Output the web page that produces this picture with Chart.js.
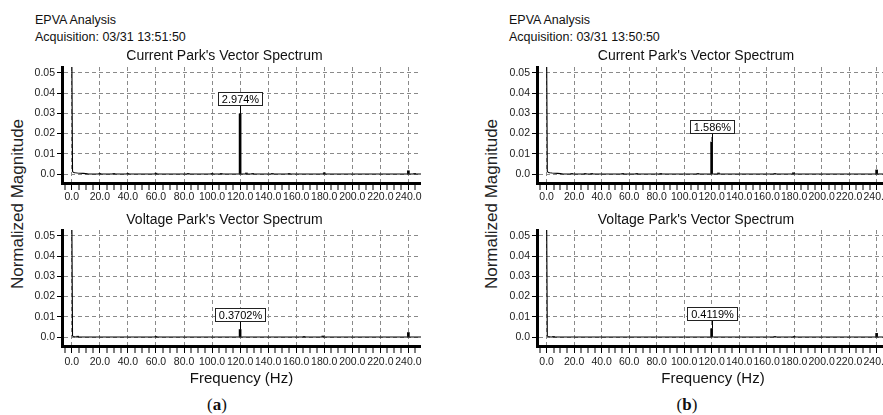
<!DOCTYPE html>
<html><head><meta charset="utf-8">
<script src="https://cdn.jsdelivr.net/npm/chart.js@4.4.1/dist/chart.umd.min.js"></script>
<style>
html,body{margin:0;padding:0;background:#fff;}
body{width:883px;height:415px;position:relative;overflow:hidden;font-family:'Liberation Sans',Arial,sans-serif;color:#111;}
.hdr{position:absolute;font-size:12.5px;line-height:15px;white-space:nowrap;}
.cv{position:absolute;}
.ytitle{position:absolute;font-size:17px;line-height:20px;white-space:nowrap;transform:translate(-50%,-50%) rotate(-90deg);color:#222;}
.cap{position:absolute;font-family:'Liberation Serif','Times New Roman',serif;font-size:17px;transform:translate(-50%,-50%);white-space:nowrap;}
.cap b{font-weight:bold;}
</style></head><body>
<div class="hdr" style="left:35px;top:13px">EPVA Analysis</div>
<div class="hdr" style="left:35px;top:30px">Acquisition: 03/31 13:51:50</div>
<div class="hdr" style="left:509px;top:13px">EPVA Analysis</div>
<div class="hdr" style="left:509px;top:30px">Acquisition: 03/31 13:50:50</div>
<div class="ytitle" style="left:18px;top:204px">Normalized Magnitude</div>
<div class="ytitle" style="left:492px;top:204px">Normalized Magnitude</div>
<canvas id="curA" class="cv" style="left:28px;top:40px" width="408" height="163"></canvas>
<canvas id="volA" class="cv" style="left:28px;top:203px" width="408" height="185"></canvas>
<canvas id="curB" class="cv" style="left:503px;top:40px" width="401" height="163"></canvas>
<canvas id="volB" class="cv" style="left:503px;top:203px" width="401" height="185"></canvas>
<div class="cap" style="left:217px;top:405px">(<b>a</b>)</div>
<div class="cap" style="left:687px;top:405px">(<b>b</b>)</div>
<script>
// ---------- axis ticks ----------
const xTickValues = [0, 20, 40, 60, 80, 100, 120, 140, 160, 180, 200, 220, 240];
const xTickLabels = ['0.0','20.0','40.0','60.0','80.0','100.0','120.0','140.0','160.0','180.0','200.0','220.0','240.0'];
const yTickValues = [0, 0.01, 0.02, 0.03, 0.04, 0.05];
const yTickLabels = ['0.0','0.01','0.02','0.03','0.04','0.05'];
const panelTitles = ["Current Park's Vector Spectrum", "Voltage Park's Vector Spectrum"];
const xAxisTitle = 'Frequency (Hz)';

// ---------- panel (a) current ----------
const curA_lowFreq = [0, 0.5, 1.0, 1.5, 2.5, 4, 6, 8, 10, 12, 249];
const curA_lowMag  = [0.06, 0.0013, 0.0009, 0.0007, 0.0006, 0.0005, 0.0004, 0.0003, 0.0002, 0.0, 0.0];
const curA_peakFreq = [20, 30, 40, 60, 83, 100, 106.5, 120, 124.5, 129, 143, 155, 180, 240, 244.5];
const curA_peakMag  = [0.0003, 0.0002, 0.0003, 0.0004, 0.0002, 0.0003, 0.0002, 0.02974, 0.0005, 0.0003, 0.0002, 0.0002, 0.0006, 0.0016, 0.0003];
// ---------- panel (a) voltage ----------
const volA_lowFreq = [0, 0.5, 1.0, 2, 3, 249];
const volA_lowMag  = [0.06, 0.0006, 0.0002, 0.0001, 0.0, 0.0];
const volA_peakFreq = [4.2, 60, 120, 165.6, 179, 240];
const volA_peakMag  = [0.0004, 0.0002, 0.003702, 0.0003, 0.0005, 0.0022];
// ---------- panel (b) current ----------
const curB_lowFreq = [0, 0.5, 1.0, 1.5, 2.5, 4, 6, 8, 10, 12, 249];
const curB_lowMag  = [0.06, 0.0013, 0.0009, 0.0007, 0.0006, 0.0005, 0.0004, 0.0003, 0.0002, 0.0, 0.0];
const curB_peakFreq = [18.3, 28, 32.8, 55.4, 65.6, 83, 110, 120, 125, 166, 179.5, 240];
const curB_peakMag  = [0.0003, 0.0002, 0.0002, 0.0002, 0.0002, 0.0002, 0.0002, 0.01586, 0.0005, 0.0003, 0.0006, 0.0020];
// ---------- panel (b) voltage ----------
const volB_lowFreq = [0, 0.5, 1.0, 2, 3, 249];
const volB_lowMag  = [0.06, 0.0006, 0.0002, 0.0001, 0.0, 0.0];
const volB_peakFreq = [5, 120, 166, 180, 240];
const volB_peakMag  = [0.0003, 0.004119, 0.0003, 0.0003, 0.0018];
// ---------- peak annotations ----------
const peakLabelFreq = 120;
const peakLabels = ['2.974%', '0.3702%', '1.586%', '0.4119%'];
const peakValues = [0.02974, 0.003702, 0.01586, 0.004119];

const FONT = "'Liberation Sans', Arial, sans-serif";
Chart.defaults.font.family = FONT;
Chart.defaults.color = '#1a1a1a';
const GRID = '#8a8a8a';

const peakLabelPlugin = {
  id: 'peakLabel',
  afterDatasetsDraw(chart, args, opts) {
    const {ctx} = chart;
    const xs = chart.scales.x, ys = chart.scales.y;
    const px = Math.round(xs.getPixelForValue(opts.freq)) + 0.5;
    const py = ys.getPixelForValue(opts.value);
    ctx.save();
    ctx.font = '11px ' + FONT;
    const tw = ctx.measureText(opts.text).width;
    const bw = Math.round(tw + 8), bh = 14;
    const bBottom = Math.round(py - 8);
    const bx = Math.round(px - bw / 2);
    ctx.strokeStyle = '#000';
    ctx.lineWidth = 1;
    ctx.beginPath(); ctx.moveTo(px, bBottom); ctx.lineTo(px, py); ctx.stroke();
    ctx.fillStyle = '#fff';
    ctx.fillRect(bx, bBottom - bh, bw, bh);
    ctx.strokeStyle = '#222';
    ctx.strokeRect(bx + 0.5, bBottom - bh + 0.5, bw - 1, bh - 1);
    ctx.fillStyle = '#000';
    ctx.textAlign = 'center';
    ctx.textBaseline = 'middle';
    ctx.fillText(opts.text, bx + bw / 2, bBottom - bh / 2 + 0.5);
    ctx.restore();
  }
};

function makeChart(id, p) {
  const lineData = p.lowF.map((f, i) => ({x: f, y: p.lowM[i]}));
  const barData = p.pkF.map((f, i) => ({x: f, y: p.pkM[i]}));
  const isMajor = v => xTickValues.includes(v);
  return new Chart(document.getElementById(id), {
    type: 'line',
    data: {
      datasets: [
        {type: 'line', data: lineData, borderColor: '#000', borderWidth: 1.1, pointRadius: 0, tension: 0, fill: false},
        {type: 'bar', data: barData, backgroundColor: '#000', borderWidth: 0, barThickness: 2}
      ]
    },
    options: {
      responsive: false, animation: false, devicePixelRatio: 1,
      layout: {padding: {left: 0, right: 15, top: 0, bottom: 0}},
      plugins: {
        legend: {display: false}, tooltip: {enabled: false},
        title: {display: true, text: p.title, color: '#111', font: {size: 14, family: FONT, weight: 'normal'},
                padding: {top: p.tPadTop, bottom: p.tPadBottom}},
        peakLabel: {freq: peakLabelFreq, value: p.annValue, text: p.annText}
      },
      scales: {
        x: {
          type: 'linear', min: -7, max: 249, offset: false,
          afterBuildTicks: s => { const t = []; for (let v = -5; v <= 245; v += 5) t.push({value: v}); s.ticks = t; },
          afterFit: s => { s.height = p.xHeight; },
          ticks: {autoSkip: false, maxRotation: 0, minRotation: 0, padding: p.xLabPad, color: '#1a1a1a',
                  font: {size: 10.5},
                  callback: v => { const i = xTickValues.indexOf(v); return i >= 0 ? xTickLabels[i] : ''; }},
          grid: {display: true, offset: false, drawOnChartArea: true, drawTicks: true, tickLength: 7,
                 color: c => (c.tick && isMajor(c.tick.value)) ? GRID : 'rgba(0,0,0,0)',
                 lineWidth: c => (c.tick && isMajor(c.tick.value)) ? 1 : 0,
                 tickColor: '#000', tickWidth: 1},
          border: {display: true, color: '#000', width: 3, dash: [4, 3]},
          title: {display: p.showXTitle, text: xAxisTitle, color: '#111', font: {size: 15}, padding: {top: 0, bottom: 0}}
        },
        y: {
          type: 'linear', min: -0.004455, max: 0.05297,
          afterBuildTicks: s => { s.ticks = yTickValues.map(v => ({value: v})); },
          afterFit: s => { s.width = 34; },
          ticks: {padding: 2, color: '#1a1a1a', font: {size: 10.5},
                  callback: v => { const i = yTickValues.indexOf(v); return i >= 0 ? yTickLabels[i] : ''; }},
          grid: {display: true, drawOnChartArea: true, drawTicks: true, tickLength: 5, color: GRID, lineWidth: 1, tickColor: '#000', tickWidth: 1},
          border: {display: true, color: '#000', width: 3, dash: [4, 3]}
        }
      }
    },
    plugins: [peakLabelPlugin]
  });
}

makeChart('curA', {lowF: curA_lowFreq, lowM: curA_lowMag, pkF: curA_peakFreq, pkM: curA_peakMag,
  title: panelTitles[0], tPadTop: 7.6, tPadBottom: 2.6, xHeight: 20, xLabPad: 1, showXTitle: false,
  annValue: peakValues[0], annText: peakLabels[0]});
makeChart('volA', {lowF: volA_lowFreq, lowM: volA_lowMag, pkF: volA_peakFreq, pkM: volA_peakMag,
  title: panelTitles[1], tPadTop: 8.6, tPadBottom: 1.6, xHeight: 42, xLabPad: 3, showXTitle: true,
  annValue: peakValues[1], annText: peakLabels[1]});
makeChart('curB', {lowF: curB_lowFreq, lowM: curB_lowMag, pkF: curB_peakFreq, pkM: curB_peakMag,
  title: panelTitles[0], tPadTop: 7.6, tPadBottom: 2.6, xHeight: 20, xLabPad: 1, showXTitle: false,
  annValue: peakValues[2], annText: peakLabels[2]});
makeChart('volB', {lowF: volB_lowFreq, lowM: volB_lowMag, pkF: volB_peakFreq, pkM: volB_peakMag,
  title: panelTitles[1], tPadTop: 8.6, tPadBottom: 1.6, xHeight: 42, xLabPad: 3, showXTitle: true,
  annValue: peakValues[3], annText: peakLabels[3]});
</script>
</body></html>
